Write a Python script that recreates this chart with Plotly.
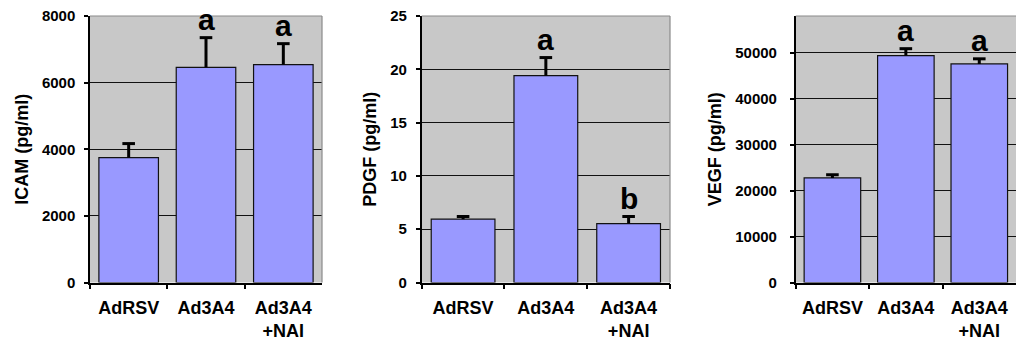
import plotly.graph_objects as go

categories = ["AdRSV", "Ad3A4", "Ad3A4<br>+NAI"]

icam_values = [3750, 6460, 6540]
icam_err = [420, 890, 630]
icam_letters = ["", "a", "a"]

pdgf_values = [5.94, 19.4, 5.53]
pdgf_err = [0.25, 1.7, 0.66]
pdgf_letters = ["", "a", "b"]

vegf_values = [22750, 49390, 47580]
vegf_err = [700, 1500, 1100]
vegf_letters = ["", "a", "a"]

titles = ["ICAM (pg/ml)", "PDGF (pg/ml)", "VEGF (pg/ml)"]
y_ranges = [[0, 8000], [0, 25], [0, 58000]]
y_dticks = [2000, 5, 10000]

FONT = "Arial, Liberation Sans, sans-serif"
BAR_COLOR = "#9999FF"
BG = "#C8C8C8"

panels = [
    (icam_values, icam_err, icam_letters),
    (pdgf_values, pdgf_err, pdgf_letters),
    (vegf_values, vegf_err, vegf_letters),
]

x_domains = [[90 / 1016, 322 / 1016], [421.7 / 1016, 670 / 1016], [795.7 / 1016, 1.0]]
x_ranges = [[-0.5, 2.5], [-0.5, 2.5], [-0.5, 2.5]]
y_domain = [1 - 282.5 / 348, 1 - 16 / 348]
label_standoff = [6, 6, 10]
title_standoff = [9, 9, 9]

fig = go.Figure()
annotations = []
shapes = []

for i, (vals, errs, letters) in enumerate(panels):
    n = "" if i == 0 else str(i + 1)
    xa, ya = "x" + n, "y" + n
    tops = [v + e for v, e in zip(vals, errs)]
    fig.add_trace(go.Bar(
        x=categories, y=vals, xaxis=xa, yaxis=ya,
        marker=dict(color=BAR_COLOR, line=dict(color="#111111", width=1.2)),
        error_y=dict(type="data", symmetric=False, array=errs,
                     arrayminus=[0] * len(errs), color="black",
                     thickness=3, width=0),
        showlegend=False, hoverinfo="skip",
    ))
    # error bar caps
    fig.add_trace(go.Scatter(
        x=categories, y=tops, xaxis=xa, yaxis=ya, mode="markers",
        marker=dict(symbol="line-ew-open", size=9, color="black",
                    line=dict(color="black", width=3)),
        showlegend=False, hoverinfo="skip", cliponaxis=False,
    ))
    for c, t, top in zip(categories, letters, tops):
        if t:
            annotations.append(dict(
                x=c, y=top, xref=xa, yref=ya, text=t, showarrow=False,
                yanchor="bottom", yshift=0,
                font=dict(family=FONT, size=30, color="black", weight="bold"),
            ))
    axis_x = dict(
        domain=x_domains[i], range=x_ranges[i], type="category",
        automargin=False,
        showline=True, linecolor="black", linewidth=1.5,
        ticks="outside", tickson="boundaries", ticklen=5, tickcolor="black",
        tickwidth=1.5, showgrid=False, anchor=ya,
        tickfont=dict(family=FONT, size=18, color="black", weight="bold"),
        ticklabelstandoff=8,
    )
    axis_y = dict(
        domain=y_domain, range=y_ranges[i], dtick=y_dticks[i], tick0=0,
        tickformat="d", automargin=False,
        showline=True, linecolor="black", linewidth=1.5,
        ticks="outside", ticklen=4, tickcolor="black", tickwidth=1.5,
        showgrid=True, gridcolor="#111111", gridwidth=1, zeroline=False,
        anchor=xa,
        tickfont=dict(family=FONT, size=15, color="black", weight="bold"),
        ticklabelstandoff=label_standoff[i],
        title=dict(text=titles[i], standoff=title_standoff[i],
                   font=dict(family=FONT, size=18, color="black", weight="bold")),
    )
    key = "" if i == 0 else str(i + 1)
    fig.layout["xaxis" + key] = axis_x
    fig.layout["yaxis" + key] = axis_y
    # gray plot-area border on top and right
    shapes.append(dict(type="line", xref=xa + " domain", yref=ya + " domain",
                       x0=0, x1=1, y0=1, y1=1, line=dict(color="#8a8a8a", width=1.2),
                       layer="above"))
    if i < 2:
        shapes.append(dict(type="line", xref=xa + " domain", yref=ya + " domain",
                           x0=1, x1=1, y0=0, y1=1, line=dict(color="#8a8a8a", width=1.2),
                           layer="above"))
    # plot area background
    shapes.append(dict(type="rect", xref=xa + " domain", yref=ya + " domain",
                       x0=0, x1=1, y0=0, y1=1, fillcolor=BG,
                       line=dict(width=0), layer="below"))

fig.update_layout(
    width=1016, height=348,
    margin=dict(l=0, r=0, t=0, b=0, autoexpand=False),
    paper_bgcolor="white", plot_bgcolor="rgba(0,0,0,0)",
    bargap=0.23,
    annotations=annotations, shapes=shapes,
    font=dict(family=FONT, color="black"),
)

fig.write_html(
    "out.html",
    config={"displayModeBar": False},
    post_script="document.body.style.margin='0';document.body.style.overflow='hidden';",
)
